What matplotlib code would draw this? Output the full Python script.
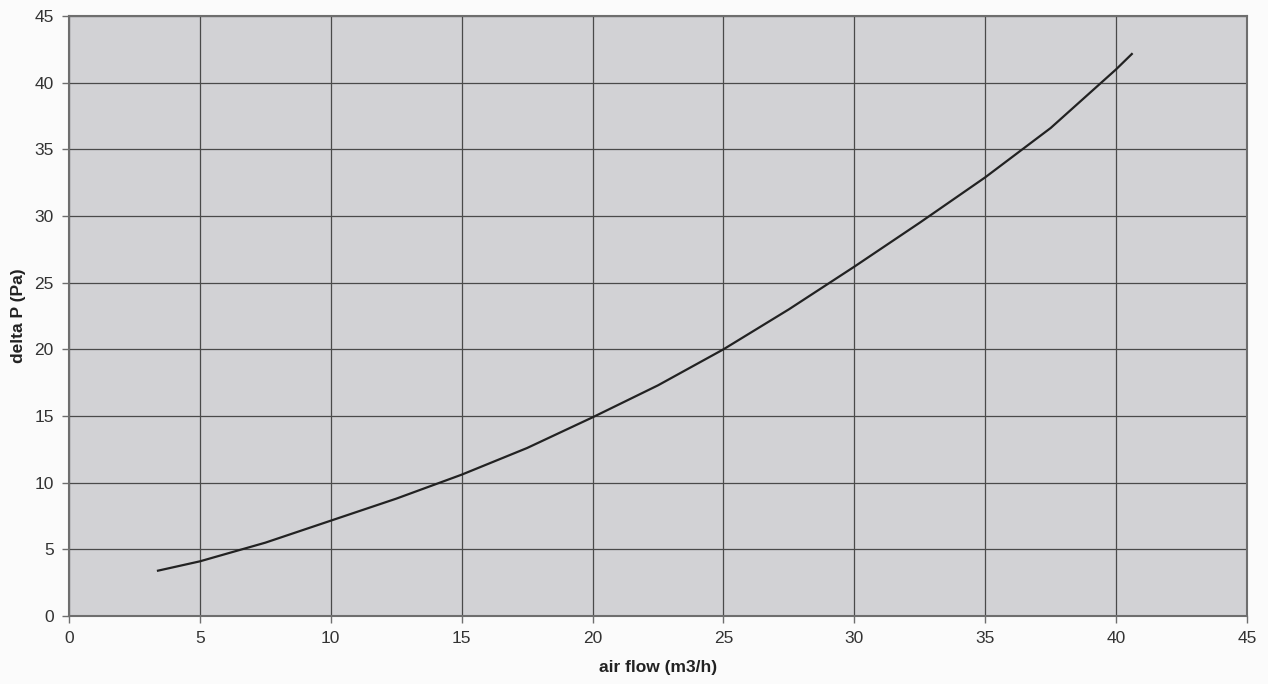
import matplotlib
matplotlib.use("Agg")
import matplotlib.pyplot as plt

air_flow = [3.4, 5, 7.5, 10, 12.5, 15, 17.5, 20, 22.5, 25, 27.5, 30, 32.5, 35, 37.5, 40, 40.6]
delta_p = [3.4, 4.1, 5.5, 7.15, 8.8, 10.6, 12.6, 14.9, 17.3, 20.0, 23.0, 26.2, 29.5, 32.9, 36.6, 41.0, 42.15]
ticks = [0, 5, 10, 15, 20, 25, 30, 35, 40, 45]

plt.rcParams['font.family'] = ['Liberation Sans', 'DejaVu Sans']

fig = plt.figure(figsize=(12.68, 6.84), dpi=100)
fig.patch.set_facecolor('#fbfbfb')
ax = fig.add_axes([69/1268, 1 - 616/684, (1247-69)/1268, (616-16)/684])
ax.set_facecolor('#d2d2d5')

ax.plot(air_flow, delta_p, color='#222222', lw=1.6, zorder=3)

ax.set_xlim(0, 45)
ax.set_ylim(0, 45)
ax.set_xticks(ticks)
ax.set_yticks(ticks)
ax.grid(True, color='#4a4a4a', lw=0.9, zorder=1)
ax.set_axisbelow(True)
for s in ax.spines.values():
    s.set_color('#6e6e6e')
    s.set_linewidth(1.5)
ax.tick_params(axis='both', direction='out', length=5, width=1, color='#6e6e6e',
               labelsize=12.5, labelcolor='#333333', pad=6)

ax.set_xlabel('air flow (m3/h)', fontsize=12.5, fontweight='bold', color='#222222', labelpad=10)
ax.set_ylabel('delta P (Pa)', fontsize=12.5, fontweight='bold', color='#222222', labelpad=6)

fig.savefig('out.png', dpi=100, facecolor=fig.get_facecolor())
